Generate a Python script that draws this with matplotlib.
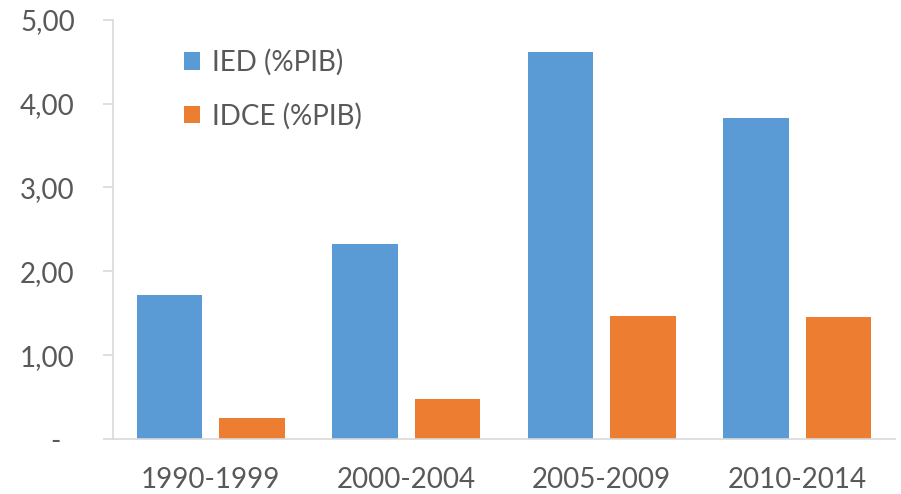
import numpy as np
import matplotlib.pyplot as plt
from matplotlib.transforms import ScaledTranslation

# data
periods = ['1990-1999', '2000-2004', '2005-2009', '2010-2014']
ied = [1.72, 2.32, 4.61, 3.83]
idce = [0.25, 0.48, 1.47, 1.45]
ytick_vals = [0, 1, 2, 3, 4, 5]
ytick_labels = ['-', '1,00', '2,00', '3,00', '4,00', '5,00']

BLUE = '#5B9BD5'
ORANGE = '#ED7D31'
TEXT = '#595959'
AXIS = '#D9D9D9'

plt.rcParams['font.family'] = ['Lato', 'DejaVu Sans']

fig = plt.figure(figsize=(9.01, 4.94), dpi=100)
ax = fig.add_axes([113 / 901, 1 - 439 / 494, (895 - 113) / 901, (439 - 19.7) / 494])

x = np.arange(len(periods))
w = 0.335
off = 0.21
ax.bar(x - off, ied, width=w, color=BLUE, label='IED (%PIB)')
ax.bar(x + off, idce, width=w, color=ORANGE, label='IDCE (%PIB)')

ax.set_xlim(-0.5, len(periods) - 0.5)
ax.set_ylim(0, 5)
ax.set_xticks(x)
ax.set_xticklabels(periods)
ax.set_yticks(ytick_vals)
ax.set_yticklabels(ytick_labels)

for s in ['top', 'right']:
    ax.spines[s].set_visible(False)
for s in ['left', 'bottom']:
    ax.spines[s].set_color(AXIS)
    ax.spines[s].set_linewidth(1.2)

ax.tick_params(axis='y', length=7.5, width=1.2, color=AXIS, pad=20,
               labelsize=20, labelcolor=TEXT)
ax.tick_params(axis='x', length=0, pad=20, labelsize=20, labelcolor=TEXT)

# the zero label is a dash sitting further left, as in the spreadsheet format
zero_lbl = ax.get_yticklabels()[0]
zero_lbl.set_transform(zero_lbl.get_transform() + ScaledTranslation(-14 / 100, 0, fig.dpi_scale_trans))

leg = ax.legend(loc='upper left', bbox_to_anchor=(0.077, 0.957), frameon=False,
                fontsize=20, handlelength=0.58, handleheight=0.58,
                handletextpad=0.4, labelspacing=0.97, borderaxespad=0)
for t in leg.get_texts():
    t.set_color(TEXT)

fig.savefig('out.png', dpi=100)
